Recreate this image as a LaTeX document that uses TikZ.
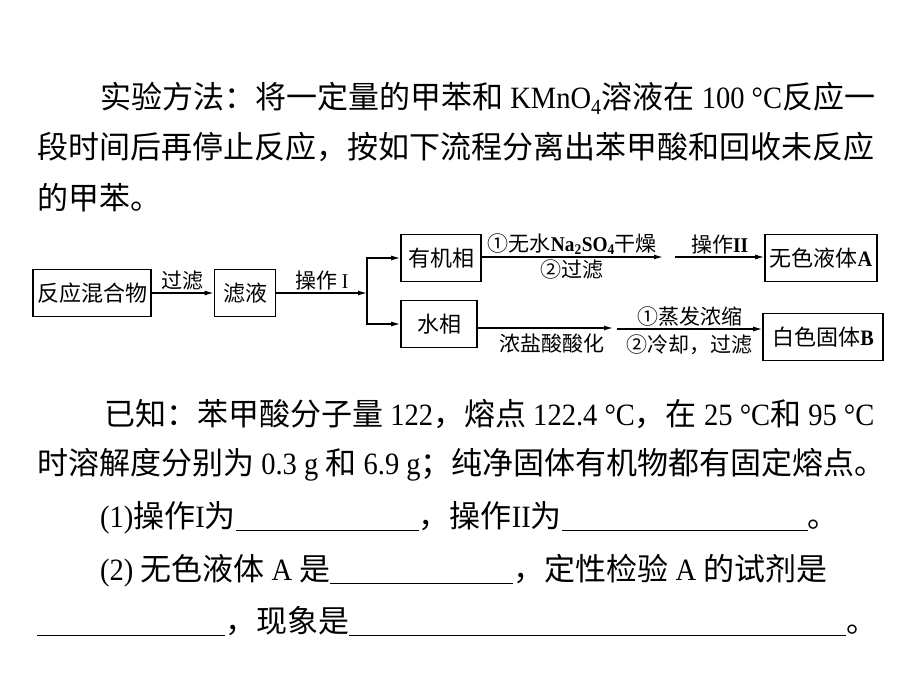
\documentclass[tikz,border=0pt]{standalone}
\usepackage{fontspec}
\setmainfont{Noto Sans CJK SC}
\newfontfamily\tm[FakeStretch=0.92]{Liberation Serif}
\usetikzlibrary{positioning,arrows.meta}
\tikzstyle{para} = [anchor=base west, inner sep=0pt, font=\fontsize{31}{36}\selectfont]
\tikzstyle{stepbox} = [draw=black, line width=1.6pt, rectangle, inner sep=2pt, minimum height=47pt, font=\fontsize{22}{24}\selectfont]
\tikzstyle{flow} = [-{Latex[length=9pt,width=5pt]}, line width=1.3pt]
\tikzstyle{tag} = [inner sep=2pt, font=\fontsize{21}{23}\selectfont]
\newcommand{\blank}[1]{\rule[-4pt]{#1pt}{1pt}}

\begin{document}
\begin{tikzpicture}[x=1pt, y=-1pt]
\useasboundingbox (0,0) rectangle (920,700);
% question text above the chart
\node[para] (intro1) at (100,109) {实验方法：将一定量的甲苯和{\tm\ KMnO\textsubscript{4}}溶液在{\tm\ 100 °C}反应一};
\node[para] (intro2) at (37,159) {段时间后再停止反应，按如下流程分离出苯甲酸和回收未反应};
\node[para] (intro3) at (37,210) {的甲苯。};

% flow chart
\node[stepbox, minimum width=118pt] (mix) at (92,293) {反应混合物};
\node[stepbox, minimum width=61pt] (filtrate) at (245,293) {滤液};
\coordinate (fork) at (367,293);
\node[stepbox, minimum width=80pt] (organic) at (441,258) {有机相};
\node[stepbox, minimum width=76pt] (aqueous) at (439,324) {水相};
\node[stepbox, minimum width=112pt] (liqA) at (821,258) {无色液体{\tm\bfseries A}};
\node[stepbox, minimum width=120pt] (solB) at (823,337) {白色固体{\tm\bfseries B}};
\coordinate (dry) at (663,257);
\coordinate (op2) at (675,257);
\coordinate (acid) at (613,328);
\coordinate (evap) at (617,329);

\draw[flow] (mix) -- (filtrate) node[tag, midway, above] {过滤};
\draw[flow] (filtrate) -- (fork) node[tag, midway, above] {操作{\tm\ I}};
\draw[line width=1.3pt] (fork |- organic) -- (fork |- aqueous);
\draw[flow] (fork) |- (organic);
\draw[flow] (fork) |- (aqueous);
\draw[flow] (organic.east |- dry) -- (dry)
  node[tag, midway, above] {①无水{\tm\bfseries Na\textsubscript{2}SO\textsubscript{4}}干燥}
  node[tag, midway, below] {②过滤};
\draw[flow] (op2) -- (liqA.west |- op2) node[tag, midway, above] {操作{\tm\bfseries II}};
\draw[flow] (aqueous.east |- acid) -- (acid) node[tag, pos=0.55, below=3pt] {浓盐酸酸化};
\draw[flow] (evap) -- (solB.west |- evap)
  node[tag, midway, above] {①蒸发浓缩}
  node[tag, midway, below=3pt] {②冷却，过滤};

% question text below the chart
\node[para] (known1) at (104,425) {已知：苯甲酸分子量{\tm\ 122}，熔点{\tm\ 122.4 °C}，在{\tm\ 25 °C}和{\tm\ 95 °C}};
\node[para] (known2) at (37,474) {时溶解度分别为{\tm\ 0.3 g }和{\tm\ 6.9 g}；纯净固体有机物都有固定熔点。};
\node[para] (q1) at (100,527) {{\tm (1)}操作{\tm I}为\blank{183}，操作{\tm II}为\blank{246}。};
\node[para] (q2) at (100,580) {{\tm (2) }无色液体{\tm\ A }是\blank{183}，定性检验{\tm\ A }的试剂是};
\node[para] (q3) at (37,632) {\blank{188}，现象是\blank{497}。};
\end{tikzpicture}
\end{document}
